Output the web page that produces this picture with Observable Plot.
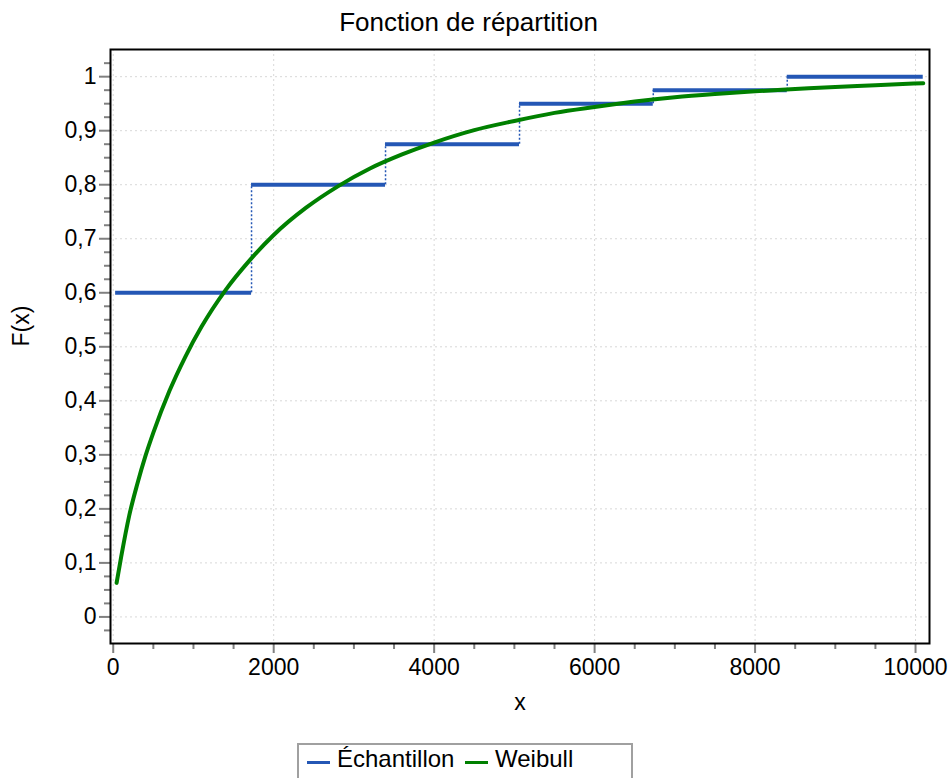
<!DOCTYPE html>
<html><head><meta charset="utf-8">
<script src="https://cdn.jsdelivr.net/npm/d3@7"></script>
<script src="https://cdn.jsdelivr.net/npm/@observablehq/plot@0.6"></script>
<style>
html,body{margin:0;padding:0;background:#fff;width:950px;height:778px;overflow:hidden;font-family:"Liberation Sans",Arial,sans-serif;}
#title{position:absolute;left:0;top:0;width:937px;height:40px;line-height:44px;text-align:center;font-size:26px;color:#000;white-space:nowrap;}
#chart{position:absolute;left:0;top:40px;}
#legend{position:absolute;left:297px;top:743px;width:336px;height:40px;border:2px solid #a0a0a0;box-sizing:border-box;background:#fff;}
.sw{position:absolute;width:23px;height:3px;top:16px;}
.lt{position:absolute;top:2px;font-size:24px;line-height:24px;color:#000;white-space:nowrap;}
</style>
</head><body>
<div id="title">Fonction de répartition</div>
<div id="chart"></div>
<div id="legend">
  <div class="sw" style="left:8px;background:#2457b5"></div><div class="lt" style="left:38px">Échantillon</div>
  <div class="sw" style="left:166px;background:#008000"></div><div class="lt" style="left:196px">Weibull</div>
</div>
<script>
// Empirical CDF (sample) steps
const stepX = [30, 1724, 3394, 5064, 6731, 8401, 10096];
const stepF = [0.6, 0.8, 0.875, 0.95, 0.975, 1.0];
// Fitted Weibull CDF
const weibullX = [42, 100, 200, 300, 400, 500, 700, 900, 1100, 1400, 1700, 2000, 2400, 2800, 3200, 3600, 4000, 4500, 5000, 5500, 6000, 6500, 7000, 7500, 8000, 8500, 9000, 9500, 10096];
const weibullF = [0.063, 0.112, 0.188, 0.246, 0.297, 0.341, 0.418, 0.482, 0.537, 0.605, 0.660, 0.707, 0.757, 0.797, 0.830, 0.856, 0.878, 0.901, 0.918, 0.933, 0.944, 0.954, 0.962, 0.968, 0.973, 0.977, 0.981, 0.984, 0.988];
// Axis ticks
const xTicks = [0, 2000, 4000, 6000, 8000, 10000];
const yTicks = [0, 0.1, 0.2, 0.3, 0.4, 0.5, 0.6, 0.7, 0.8, 0.9, 1];
const xMinor = d3.range(500, 10001, 500).filter(v => v % 2000 !== 0);
const yMinor = d3.range(-1, 42).filter(i => i % 4 !== 0).map(i => i / 40);

const blue = "#2457b5", green = "#008000";
const segs = stepF.map((f, i) => ({x1: stepX[i], x2: stepX[i + 1], y: f}));
const risers = stepF.slice(1).map((f, i) => ({x: stepX[i + 1], y1: stepF[i], y2: f}));
const curve = weibullX.map((x, i) => ({x, f: weibullF[i]}));
const yFmt = d => d === 0 ? "0" : d === 1 ? "1" : d.toFixed(1).replace(".", ",");

const chart = Plot.plot({
  width: 950,
  height: 680,
  marginLeft: 110,
  marginRight: 21,
  marginTop: 9,
  marginBottom: 77,
  style: {fontFamily: '"Liberation Sans", Arial, sans-serif', fontSize: "23px", background: "white", color: "black", overflow: "visible"},
  x: {domain: [-34, 10174]},
  y: {domain: [-0.0492, 1.0503]},
  marks: [
    Plot.gridX(xTicks, {stroke: "#d8d8d8", strokeOpacity: 1, strokeWidth: 1, strokeDasharray: "2,3"}),
    Plot.gridY(yTicks, {stroke: "#d8d8d8", strokeOpacity: 1, strokeWidth: 1, strokeDasharray: "2,3"}),
    Plot.axisX(xMinor, {anchor: "bottom", tickSize: 6, stroke: "#808080", strokeWidth: 2, fill: "none", label: null}),
    Plot.axisX(xTicks, {anchor: "bottom", tickSize: 10, tickPadding: 5, stroke: "#808080", strokeWidth: 2, fill: "black", fontSize: 23, tickFormat: d => String(d), label: null}),
    Plot.axisY(yMinor, {anchor: "left", tickSize: 6, stroke: "#808080", strokeWidth: 2, fill: "none", label: null}),
    Plot.axisY(yTicks, {anchor: "left", tickSize: 11, tickPadding: 3, stroke: "#808080", strokeWidth: 2, fill: "black", fontSize: 23, tickFormat: yFmt, label: null}),
    Plot.ruleX(risers, {x: "x", y1: "y1", y2: "y2", stroke: blue, strokeWidth: 1.5, strokeDasharray: "2,2"}),
    Plot.ruleY(segs, {y: "y", x1: "x1", x2: "x2", stroke: blue, strokeWidth: 4}),
    Plot.line(curve, {x: "x", y: "f", stroke: green, strokeWidth: 4, curve: "monotone-x"}),
    Plot.frame({stroke: "black", strokeWidth: 2}),
    Plot.text(["x"], {frameAnchor: "bottom", dy: 66, fontSize: 23, fill: "black"}),
    Plot.text(["F(x)"], {frameAnchor: "left", dx: -89, rotate: -90, fontSize: 23, fill: "black"})
  ]
});
document.getElementById("chart").appendChild(chart);
</script>
</body></html>
